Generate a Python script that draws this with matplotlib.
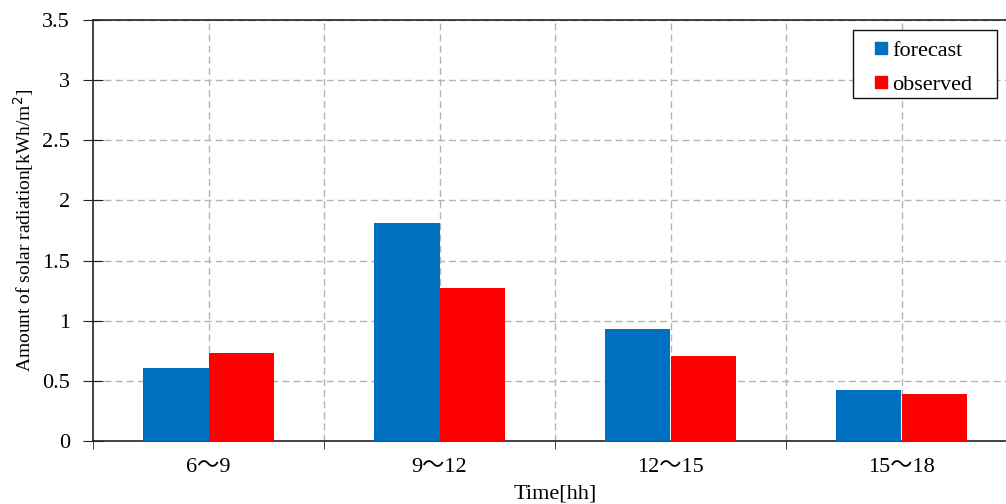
import matplotlib
matplotlib.use("Agg")
import matplotlib.pyplot as plt
from matplotlib.lines import Line2D
from matplotlib.patches import Rectangle
import numpy as np

categories = ["6〜9", "9〜12", "12〜15", "15〜18"]
forecast = [0.61, 1.81, 0.93, 0.42]
observed = [0.735, 1.27, 0.71, 0.39]
series_names = ["forecast", "observed"]
series_colors = ["#0070C0", "#FF0000"]

plt.rcParams['font.family'] = ['Liberation Serif', 'Noto Sans CJK JP']

fig = plt.figure(figsize=(10.06, 5.04), dpi=100)
ax = fig.add_axes([93/1006, 63/504, 924/1006, 421/504])

x = np.arange(len(categories))
w = 0.283
ax.bar(x - w/2, forecast, w, color=series_colors[0], label=series_names[0], zorder=3)
ax.bar(x + w/2, observed, w, color=series_colors[1], label=series_names[1], zorder=3)

ax.set_xlim(-0.5, len(categories) - 0.5)
ax.set_ylim(0, 3.5)
ax.set_yticks(np.arange(0, 3.51, 0.5))
ax.set_yticklabels(["0", "0.5", "1", "1.5", "2", "2.5", "3", "3.5"], fontsize=16)
ax.set_xticks(x)
ax.set_xticklabels(categories, fontsize=16)
ax.tick_params(axis='x', which='major', length=0, pad=12)
ax.set_xticks(np.arange(-0.5, len(categories), 1.0), minor=True)
ax.tick_params(axis='x', which='minor', length=6, direction='out', color='#222222')
ax.tick_params(axis='y', length=15, direction='inout', color='#222222', pad=9)

for v in np.arange(0.5, 3.51, 0.5):
    ax.axhline(v, color='#b4b4b4', linestyle=(0, (5, 3)), linewidth=1, zorder=1)
for v in np.arange(0, len(categories), 0.5):
    ax.axvline(v, color='#b4b4b4', linestyle=(0, (5, 3)), linewidth=1, zorder=1)

for s in ['left', 'bottom', 'top', 'right']:
    ax.spines[s].set_color('#222222')
    ax.spines[s].set_linewidth(1.2)

ax.set_xlabel("Time[hh]", fontsize=16)
ax.xaxis.set_label_coords(0.5, -0.103)
ax.set_ylabel("Amount of solar radiation[kWh/m$^2$]", fontsize=14)
ax.yaxis.set_label_coords(-0.062, 0.5)

handles = [Line2D([], [], linestyle='none', marker='s', markersize=8,
                  markerfacecolor=c, markeredgecolor=c) for c in series_colors]
leg = fig.legend(handles, series_names, loc='upper left',
                 bbox_to_anchor=(853/1006, 1 - 33/504), fontsize=16,
                 frameon=False, handlelength=1.9, handletextpad=-0.45,
                 labelspacing=0.6, borderpad=0.33, borderaxespad=0)
fig.patches.append(Rectangle((853/1006, 1 - 98/504), 144/1006, 68/504,
                             transform=fig.transFigure, fill=True,
                             facecolor='white', edgecolor='#111111',
                             linewidth=1.0, zorder=4))
leg.set_zorder(5)

fig.savefig("out.png", dpi=100)
